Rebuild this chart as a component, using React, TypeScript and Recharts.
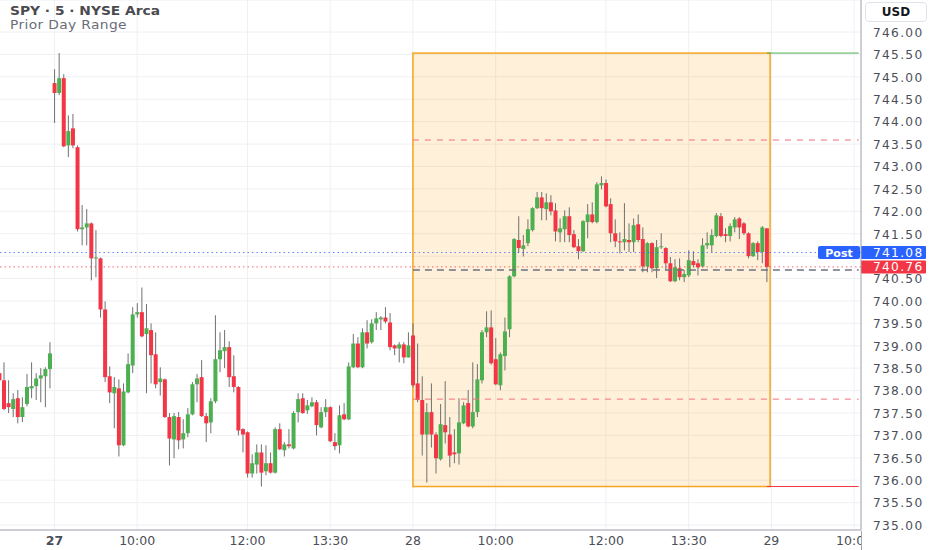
import React from "react";
import {
  Bar,
  CartesianGrid,
  ComposedChart,
  ReferenceArea,
  ReferenceLine,
  XAxis,
  YAxis,
} from "recharts";

// open, high, low, close
type Candle = [number, number, number, number];

// tail of the 26th
const day26: Candle[] = [
  [738.39, 738.9, 738.12, 738.23],
  [738.23, 738.63, 737.56, 737.59],
  [737.72, 738.23, 737.5, 737.63],
  [737.59, 737.94, 737.41, 737.81],
  [737.83, 738.01, 737.27, 737.41],
  [737.41, 737.85, 737.3, 737.63],
  [737.7, 738.37, 737.65, 738.08],
  [738.05, 738.63, 737.83, 738.1],
  [738.1, 738.39, 737.79, 738.27],
  [738.27, 738.5, 737.74, 738.34],
  [738.32, 738.52, 737.63, 738.48],
  [738.48, 739.08, 738.05, 738.83],
];

const day27: Candle[] = [
  [744.86, 745.17, 743.97, 744.64],
  [744.64, 745.53, 744.59, 744.97],
  [744.97, 745.06, 743.43, 743.45],
  [743.47, 744.14, 743.21, 743.79],
  [743.85, 744.17, 743.41, 743.47],
  [743.43, 743.47, 741.55, 741.6],
  [741.6, 742.14, 741.24, 741.64],
  [741.64, 742.05, 741.24, 741.73],
  [741.73, 741.75, 740.46, 740.95],
  [740.95, 741.58, 740.53, 740.97],
  [740.95, 740.97, 739.63, 739.81],
  [739.81, 739.99, 738.19, 738.3],
  [738.32, 738.54, 737.72, 737.96],
  [737.94, 738.3, 737.16, 738.08],
  [738.05, 738.25, 736.53, 736.78],
  [736.78, 738.16, 736.76, 737.98],
  [737.96, 738.83, 737.94, 738.59],
  [738.56, 739.86, 738.39, 739.7],
  [739.7, 739.95, 739.63, 739.75],
  [739.75, 740.3, 739.19, 739.21],
  [739.26, 739.93, 737.94, 739.39],
  [739.35, 739.5, 738.16, 738.79],
  [738.81, 739.3, 738.05, 738.14],
  [738.19, 738.52, 737.89, 738.27],
  [738.25, 738.27, 737.39, 737.41],
  [737.41, 737.5, 736.33, 736.93],
  [736.91, 737.5, 736.49, 737.43],
  [737.41, 737.52, 736.69, 736.89],
  [736.91, 737.36, 736.71, 737.05],
  [737.05, 737.61, 736.96, 737.47],
  [737.47, 738.19, 737.45, 738.14],
  [738.14, 738.37, 737.74, 738.27],
  [738.3, 738.68, 737.41, 737.43],
  [737.43, 737.5, 736.85, 737.27],
  [737.29, 737.83, 737.05, 737.76],
  [737.76, 739.68, 737.72, 738.7],
  [738.7, 739.3, 738.41, 738.9],
  [738.88, 739.35, 738.5, 738.97],
  [738.97, 739.1, 738.08, 738.3],
  [738.32, 738.79, 737.96, 738.08],
  [738.08, 738.1, 737.0, 737.11],
  [737.14, 737.16, 736.62, 737.02],
  [737.07, 737.09, 736.06, 736.15],
  [736.15, 736.58, 736.06, 736.38],
  [736.35, 736.8, 736.15, 736.62],
  [736.62, 736.8, 735.86, 736.17],
  [736.2, 736.78, 736.11, 736.38],
  [736.38, 736.62, 736.15, 736.17],
  [736.17, 737.18, 736.15, 737.14],
  [737.14, 737.27, 736.67, 736.69],
  [736.67, 736.85, 736.53, 736.8],
  [736.8, 737.14, 736.71, 736.76],
  [736.71, 737.54, 736.69, 737.5],
  [737.52, 737.94, 737.29, 737.81],
  [737.83, 737.94, 737.48, 737.5],
  [737.56, 737.79, 737.48, 737.67],
  [737.65, 737.85, 737.63, 737.74],
  [737.74, 737.79, 737.0, 737.23],
  [737.18, 737.63, 737.16, 737.52],
  [737.52, 737.81, 737.41, 737.63],
  [737.63, 737.65, 736.85, 736.87],
  [736.85, 737.05, 736.67, 736.76],
  [736.78, 737.67, 736.6, 737.45],
  [737.47, 737.72, 737.34, 737.36],
  [737.36, 738.63, 737.34, 738.54],
  [738.52, 739.26, 738.5, 739.05],
  [739.05, 739.19, 738.5, 738.52],
  [738.52, 739.39, 738.5, 739.3],
  [739.3, 739.57, 738.94, 739.05],
  [739.08, 739.59, 739.05, 739.5],
  [739.5, 739.75, 739.35, 739.61],
  [739.59, 739.66, 739.35, 739.63],
  [739.63, 739.86, 739.5, 739.54],
  [739.52, 739.73, 738.9, 738.97],
  [739.01, 739.03, 738.79, 738.94],
  [738.94, 739.08, 738.63, 739.03],
  [739.03, 739.08, 738.61, 738.74],
  [738.74, 739.3, 738.74, 739.01],
];

const day28: Candle[] = [
  [739.23, 739.5, 738.07, 738.12],
  [738.16, 739.05, 737.74, 737.79],
  [737.79, 738.32, 736.55, 737.02],
  [737.02, 737.72, 735.95, 737.52],
  [737.52, 738.16, 736.73, 737.02],
  [737.02, 737.07, 736.15, 736.49],
  [736.47, 737.7, 736.44, 737.25],
  [737.23, 738.21, 736.82, 737.07],
  [737.02, 737.41, 736.29, 736.55],
  [736.62, 737.14, 736.38, 736.58],
  [736.6, 737.83, 736.35, 737.29],
  [737.27, 737.74, 737.25, 737.67],
  [737.72, 738.01, 737.18, 737.2],
  [737.2, 738.63, 737.16, 737.52],
  [737.52, 738.59, 737.41, 738.25],
  [738.23, 739.35, 738.16, 739.3],
  [739.3, 739.77, 739.19, 739.41],
  [739.41, 739.79, 738.58, 738.61],
  [738.7, 739.17, 738.12, 738.14],
  [738.12, 738.85, 738.01, 738.81],
  [738.77, 739.63, 738.45, 739.32],
  [739.37, 740.57, 739.19, 740.55],
  [740.55, 741.4, 740.53, 741.38],
  [741.36, 741.89, 741.07, 741.18],
  [741.16, 741.47, 740.99, 741.24],
  [741.29, 741.82, 741.22, 741.6],
  [741.58, 742.09, 741.55, 742.07],
  [742.07, 742.43, 742.05, 742.31],
  [742.31, 742.43, 741.8, 742.07],
  [742.05, 742.4, 741.8, 742.2],
  [742.2, 742.36, 741.91, 742.0],
  [742.02, 742.18, 741.33, 741.55],
  [741.53, 741.84, 741.31, 741.62],
  [741.6, 742.02, 741.31, 741.89],
  [741.89, 742.09, 741.31, 741.47],
  [741.49, 741.58, 741.18, 741.2],
  [741.22, 741.38, 740.93, 741.11],
  [741.11, 741.8, 741.09, 741.78],
  [741.76, 742.16, 741.4, 741.93],
  [741.93, 742.2, 741.73, 741.76],
  [741.76, 742.65, 741.73, 742.6],
  [742.58, 742.78, 742.49, 742.63],
  [742.63, 742.71, 742.09, 742.11],
  [742.16, 742.29, 741.31, 741.51],
  [741.51, 741.82, 741.2, 741.33],
  [741.33, 741.53, 741.06, 741.31],
  [741.31, 742.18, 741.13, 741.38],
  [741.36, 741.73, 741.09, 741.31],
  [741.31, 741.84, 741.09, 741.69],
  [741.71, 741.93, 741.31, 741.36],
  [741.38, 741.64, 740.64, 740.77],
  [740.77, 741.31, 740.64, 741.29],
  [741.29, 741.31, 740.64, 740.73],
  [740.73, 741.36, 740.51, 741.2],
  [741.2, 741.51, 741.16, 741.22],
  [741.18, 741.2, 740.69, 740.84],
  [740.84, 740.98, 740.42, 740.44],
  [740.44, 740.93, 740.42, 740.75],
  [740.73, 740.95, 740.46, 740.53],
  [740.53, 740.69, 740.42, 740.6],
  [740.57, 741.13, 740.53, 740.91],
  [740.89, 741.11, 740.75, 740.8],
  [740.84, 740.93, 740.57, 740.75],
  [740.77, 741.4, 740.75, 741.24],
  [741.24, 741.53, 741.16, 741.29],
  [741.24, 741.6, 741.09, 741.47],
  [741.45, 741.96, 741.42, 741.91],
  [741.89, 741.96, 741.42, 741.45],
  [741.49, 741.62, 741.31, 741.45],
  [741.45, 741.73, 741.33, 741.67],
  [741.64, 741.87, 741.53, 741.82],
  [741.84, 741.87, 741.38, 741.64],
  [741.73, 741.76, 741.47, 741.51],
  [741.51, 741.53, 740.95, 741.0],
  [741.0, 741.31, 740.98, 741.29],
  [741.29, 741.33, 740.91, 741.09],
  [741.09, 741.67, 740.84, 741.64],
  [741.62, 741.62, 740.42, 740.76],
];

// bar index of each time label (0 = first bar of the 27th)
const timeTicks = [0, 18, 42, 60, 78, 96, 120, 138, 156, 174];
const timeLabels = ["27", "10:00", "12:00", "13:30", "28", "10:00", "12:00", "13:30", "29", "10:00"];
const priceTicks = [
  735, 735.5, 736, 736.5, 737, 737.5, 738, 738.5, 739, 739.5, 740, 740.5,
  741, 741.5, 742, 742.5, 743, 743.5, 744, 744.5, 745, 745.5, 746,
];

const priorHigh = 745.53;
const priorLow = 735.86;
const priorMid = 740.69;
const upperLevel = 743.59;
const lowerLevel = 737.81;
const postPrice = 741.08;
const lastClose = 740.76;

const GREEN = "#4caf50";
const RED = "#f23645";
const BLUE = "#2962ff";
const WICK = "#707070";
const TEXT = "#4b4e58";
const FONT = "'DejaVu Sans', sans-serif";

const candles = [...day26, ...day27, ...day28];
const firstIndex = -day26.length;
const lastIndex = 175;
const day28Start = day27.length;
const day28End = day27.length + day28.length - 1;

const rows: any[] = [];
for (let i = firstIndex; i <= lastIndex; i++) {
  const c = candles[i - firstIndex];
  rows.push(c ? { i, open: c[0], high: c[1], low: c[2], close: c[3] } : { i });
}

function CandleShape(props: any) {
  const { x, y, width, height, payload } = props;
  if (!payload || payload.high == null) return null;
  const { open, high, low, close } = payload;
  const top = height < 0 ? y + height : y;
  const h = Math.abs(height);
  const span = high - low || 1;
  const toY = (v: number) => top + ((high - v) / span) * h;
  const bodyTop = toY(Math.max(open, close));
  const bodyBottom = toY(Math.min(open, close));
  const cx = x + width / 2;
  return (
    <g>
      <line x1={cx} x2={cx} y1={top} y2={top + h} stroke={WICK} strokeWidth={1} />
      <rect
        x={x}
        y={bodyTop}
        width={width}
        height={Math.max(1, bodyBottom - bodyTop)}
        fill={close >= open ? GREEN : RED}
      />
    </g>
  );
}

// the box starts at the middle of the first bar of the 28th
function RangeBox(props: any) {
  const { x, y, width, height } = props;
  const nudge = 2.3;
  return (
    <rect
      x={x + nudge}
      y={y}
      width={width - nudge + 1}
      height={height}
      fill="#ff9800"
      fillOpacity={0.15}
      stroke="#f5a623"
      strokeWidth={1.5}
    />
  );
}

function TimeTick({ x, y, payload }: any) {
  const label = timeLabels[timeTicks.indexOf(payload.value)];
  return (
    <text
      x={x}
      y={y}
      dy={11}
      textAnchor="middle"
      fontFamily={FONT}
      fontSize={12.5}
      fontWeight={label === "27" ? 700 : 400}
      fill={TEXT}
    >
      {label}
    </text>
  );
}

function PriceTick({ x, y, payload }: any) {
  const v = payload.value;
  // the last-price tags cover the nearby tick
  if (Math.abs(v - postPrice) < 0.2 || Math.abs(v - lastClose) < 0.2) return null;
  return (
    <text x={x} y={y} dy={4.8} fontFamily={FONT} fontSize={12.2} letterSpacing={1.3} fill={TEXT}>
      {v.toFixed(2)}
    </text>
  );
}

function PriceTag({ viewBox, value, color, post }: any) {
  if (!viewBox) return null;
  const right = viewBox.x + viewBox.width;
  const y = viewBox.y;
  return (
    <g>
      {post && (
        <g>
          <rect x={right - 43} y={y - 6.5} width={42} height={13} rx={2} fill={color} />
          <text
            x={right - 22}
            y={y}
            dy={4}
            textAnchor="middle"
            fontFamily={FONT}
            fontSize={11}
            fontWeight={700}
            fill="#fff"
          >
            Post
          </text>
        </g>
      )}
      <rect x={right} y={y - 6.5} width={65} height={13} rx={1} fill={color} />
      <text x={right + 12} y={y} dy={4.2} fontFamily={FONT} fontSize={12.2} letterSpacing={1.3} fill="#fff">
        {value.toFixed(2)}
      </text>
    </g>
  );
}

export default function App() {
  return (
    <div style={{ position: "absolute", left: 0, top: 0, width: 932, height: 550, background: "#fff", fontFamily: FONT }}>
      <ComposedChart
        width={932}
        height={550}
        data={rows}
        margin={{ top: 0, right: 0, bottom: 0, left: -3 }}
        barCategoryGap="9%"
      >
        <CartesianGrid stroke="#eef0f4" />
        <XAxis
          dataKey="i"
          type="category"
          ticks={timeTicks}
          interval={0}
          tick={<TimeTick />}
          tickLine={false}
          tickSize={0}
          tickMargin={4}
          height={20}
          axisLine={{ stroke: "#a3a6af" }}
        />
        <YAxis
          orientation="right"
          type="number"
          domain={[734.89, 746.714]}
          allowDataOverflow
          ticks={priceTicks}
          interval={0}
          tick={<PriceTick />}
          tickLine={false}
          tickSize={0}
          tickMargin={12}
          width={71}
          axisLine={{ stroke: "#a3a6af" }}
        />
        <ReferenceArea
          x1={day28Start}
          x2={day28End}
          y1={priorLow}
          y2={priorHigh}
          shape={RangeBox}
          ifOverflow="visible"
        />
        <ReferenceLine
          segment={[{ x: day28Start, y: upperLevel }, { x: lastIndex, y: upperLevel }]}
          stroke="#ef6f7a"
          strokeDasharray="6 6"
          strokeWidth={1}
        />
        <ReferenceLine
          segment={[{ x: day28Start, y: lowerLevel }, { x: lastIndex, y: lowerLevel }]}
          stroke="#ef6f7a"
          strokeDasharray="6 6"
          strokeWidth={1}
        />
        <ReferenceLine
          segment={[{ x: day28Start, y: priorMid }, { x: lastIndex, y: priorMid }]}
          stroke="#6f7280"
          strokeDasharray="7 5"
          strokeWidth={1.3}
        />
        <ReferenceLine
          segment={[{ x: day28End, y: priorHigh }, { x: lastIndex, y: priorHigh }]}
          stroke={GREEN}
          strokeWidth={1}
        />
        <ReferenceLine
          segment={[{ x: day28End, y: priorLow }, { x: lastIndex, y: priorLow }]}
          stroke={RED}
          strokeWidth={1}
        />
        <ReferenceLine y={postPrice} stroke={BLUE} strokeOpacity={0.75} strokeDasharray="1.5 3" />
        <ReferenceLine y={lastClose} stroke={RED} strokeOpacity={0.75} strokeDasharray="1.5 3" />
        <Bar
          dataKey={(d: any) => (d.high == null ? null : [d.low, d.high])}
          shape={<CandleShape />}
          isAnimationActive={false}
        />
        <ReferenceLine
          y={postPrice}
          stroke="none"
          label={<PriceTag value={postPrice} color={BLUE} post />}
        />
        <ReferenceLine y={lastClose} stroke="none" label={<PriceTag value={lastClose} color={RED} />} />
      </ComposedChart>

      <div
        style={{
          position: "absolute",
          left: 10,
          top: 5,
          lineHeight: "13.5px",
          pointerEvents: "none",
          transform: "scaleX(1.2)",
          transformOrigin: "left top",
          whiteSpace: "nowrap",
        }}
      >
        <div style={{ fontSize: 11.5, fontWeight: 700, color: "#4a4a4f" }}>SPY · 5 · NYSE Arca</div>
        <div style={{ fontSize: 11.5, color: "#6a6d78", letterSpacing: 0.3 }}>Prior Day Range</div>
      </div>

      <div
        style={{
          position: "absolute",
          left: 865,
          top: 2,
          width: 60,
          height: 18,
          border: "1px solid #e0e3eb",
          borderRadius: 4,
          background: "#fff",
          fontSize: 12,
          fontWeight: 700,
          color: "#131722",
          textAlign: "center",
          lineHeight: "18px",
        }}
      >
        USD
      </div>

      <div
        style={{
          position: "absolute",
          left: 861,
          top: 531,
          width: 71,
          height: 19,
          background: "#fff",
          borderLeft: "1px solid #a3a6af",
        }}
      />
    </div>
  );
}
